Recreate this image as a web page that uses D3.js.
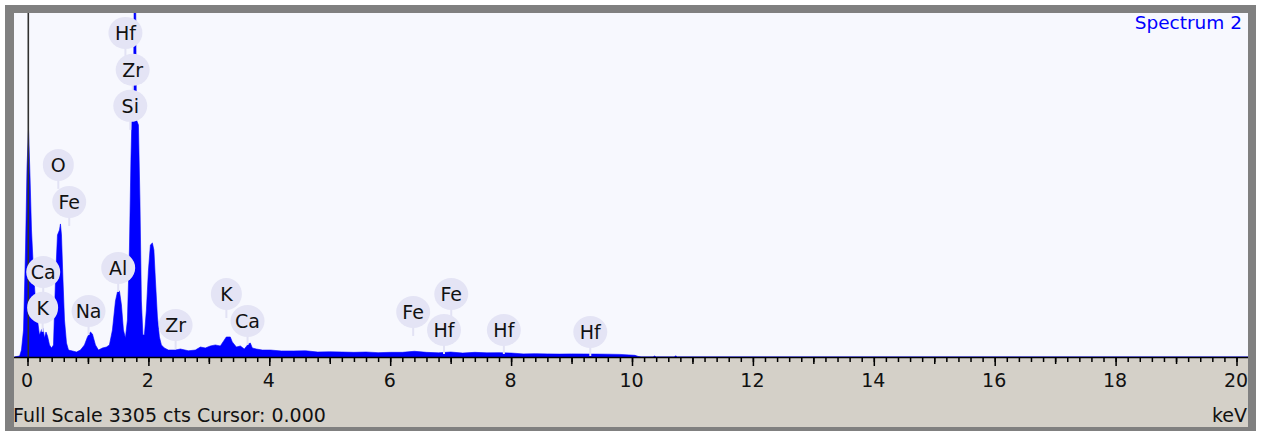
<!DOCTYPE html>
<html>
<head>
<meta charset="utf-8">
<script src="https://cdn.jsdelivr.net/npm/d3@7"></script>
<style>
  body { margin: 0; background: #ffffff; }
  text { font-family: "DejaVu Sans", sans-serif; }
</style>
</head>
<body>
<div id="spectrum"></div>
<script>
// spectrum: energy (keV) and counts
var energyKeV = [
  -0.215, -0.13, -0.10, -0.066, -0.033, -0.008, 0.017, 0.041, 0.066, 0.099,
  0.132, 0.165, 0.198, 0.231, 0.256, 0.281, 0.306, 0.331, 0.364, 0.397,
  0.430, 0.463, 0.496, 0.529, 0.545, 0.562, 0.587, 0.612, 0.645, 0.678,
  0.744, 0.810, 0.876, 0.942, 0.992, 1.041, 1.074, 1.124, 1.174, 1.240,
  1.306, 1.355, 1.405, 1.455, 1.488, 1.521, 1.554, 1.587, 1.620, 1.653,
  1.686, 1.711, 1.727, 1.752, 1.777, 1.802, 1.835, 1.860, 1.884, 1.909,
  1.934, 1.967, 2.000, 2.033, 2.066, 2.091, 2.116, 2.149, 2.182, 2.215,
  2.264, 2.331, 2.446, 2.529, 2.661, 2.777, 2.860, 2.942, 3.025, 3.107,
  3.190, 3.256, 3.289, 3.355, 3.388, 3.455, 3.521, 3.587, 3.653, 3.686,
  3.719, 3.785, 3.884, 4.02, 4.2, 4.4, 4.6, 4.8, 5.0, 5.2,
  5.4, 5.6, 5.8, 6.0, 6.2, 6.4, 6.6, 6.8, 7.0, 7.2,
  7.4, 7.6, 7.8, 8.0, 8.2, 8.4, 8.6, 8.8, 9.0, 9.2,
  9.4, 9.6, 9.8, 9.95, 10.05, 10.1, 10.15, 10.35, 10.37, 10.4,
  10.7, 10.72, 10.75, 20.2
];
var counts = [
  0, 10, 67, 260, 1031, 1832, 2188, 1754, 1224, 829,
  540, 357, 212, 260, 280, 183, 241, 202, 116, 87,
  116, 742, 1176, 1224, 1282, 1176, 742, 357, 135, 67,
  58, 48, 67, 116, 193, 241, 222, 116, 67, 87,
  96, 116, 260, 540, 627, 636, 501, 260, 183, 357,
  1031, 1900, 2285, 2304, 4700, 2285, 2236, 1513, 540, 212,
  212, 453, 829, 1080, 1099, 1031, 742, 385, 193, 116,
  87, 67, 67, 77, 60, 67, 96, 87, 106, 116,
  106, 164, 193, 193, 145, 96, 106, 77, 125, 135,
  87, 77, 67, 67, 58, 58, 60, 48, 50, 48,
  45, 48, 42, 45, 45, 55, 45, 40, 48, 38,
  45, 40, 42, 38, 30, 32, 30, 28, 30, 29,
  28, 27, 25, 20, 16, 6, 0, 0, 10, 0,
  0, 12, 0, 0
];

// element markers: energy (keV), label level (counts), symbol
var markerKeV = [1.62, 1.74, 1.70, 0.51, 0.69, 0.26, 0.25, 1.01, 1.50, 2.45, 3.29, 3.64, 6.38, 7.01, 6.89, 7.88, 9.31];
var markerLevel = [3123, 2767, 2420, 1851, 1494, 819, 474, 443, 858, 308, 607, 347, 434, 607, 260, 260, 241];
var markerName = ["Hf", "Zr", "Si", "O", "Fe", "Ca", "K", "Na", "Al", "Zr", "K", "Ca", "Fe", "Fe", "Hf", "Hf", "Hf"];

var majorTicks = [0, 2, 4, 6, 8, 10, 12, 14, 16, 18, 20];
var oddTicks = [1, 3, 5, 7, 9, 11, 13, 15, 17, 19];
var fullScale = 3305;
var spectrumName = "Spectrum 2";
var statusText = "Full Scale 3305 cts Cursor: 0.000";
var unitText = "keV";

var W = 1261, H = 432;
var plot = { left: 14, top: 13, right: 1248, bottom: 357 };

var svg = d3.select("div#spectrum")
  .append("svg")
  .attr("width", W)
  .attr("height", H);

// frame
svg.append("rect").attr("x", 5).attr("y", 5).attr("width", 1251).attr("height", 426).attr("fill", "#808080");
svg.append("rect").attr("x", plot.left).attr("y", plot.top)
  .attr("width", plot.right - plot.left).attr("height", plot.bottom - plot.top)
  .attr("fill", "#f7f8fe");
svg.append("rect").attr("x", plot.left).attr("y", plot.bottom)
  .attr("width", plot.right - plot.left).attr("height", 70)
  .attr("fill", "#d4d0c8");

var xScale = d3.scaleLinear().domain([0, 20]).range([27.5, 1236.5]);
var yScale = d3.scaleLinear().domain([0, fullScale]).range([plot.bottom, plot.top + 1]);

svg.append("clipPath").attr("id", "plotclip")
  .append("rect").attr("x", plot.left).attr("y", plot.top)
  .attr("width", plot.right - plot.left).attr("height", plot.bottom - plot.top);

var spectrum = energyKeV.map(function (e, i) { return { e: e, c: counts[i] }; });

var area = d3.area()
  .x(function (d) { return xScale(d.e); })
  .y0(yScale(0))
  .y1(function (d) { return yScale(d.c); });

svg.append("path")
  .datum(spectrum)
  .attr("clip-path", "url(#plotclip)")
  .attr("fill", "#0000ff")
  .attr("stroke", "#0000ff")
  .attr("stroke-width", 0.6)
  .attr("d", area);

// cursor line at 0.000 keV
svg.append("line")
  .attr("x1", xScale(0) + 0.8).attr("x2", xScale(0) + 0.8)
  .attr("y1", plot.top).attr("y2", plot.bottom)
  .attr("stroke", "#303030").attr("stroke-width", 1.6);

// element markers
var markers = svg.append("g").attr("clip-path", "url(#plotclip)")
  .selectAll("g.marker")
  .data(markerName.map(function (n, i) { return { name: n, e: markerKeV[i], lvl: markerLevel[i] }; }))
  .enter().append("g")
  .attr("class", "marker")
  .attr("transform", function (d) { return "translate(" + xScale(d.e) + "," + yScale(d.lvl) + ")"; });

markers.append("line")
  .attr("x1", 0).attr("x2", 0).attr("y1", 12).attr("y2", 24)
  .attr("stroke", "#e2e2f4").attr("stroke-width", 2);

markers.append("ellipse")
  .attr("rx", function (d) { return d.name.length > 1 ? 17 : 15.5; })
  .attr("ry", 16)
  .attr("fill", "#e4e4f5");

markers.append("text")
  .attr("text-anchor", "middle")
  .attr("dy", "0.36em")
  .attr("font-size", 19)
  .attr("fill", "#111111")
  .text(function (d) { return d.name; });

// bottom axis
var axisG = svg.append("g").attr("transform", "translate(0," + plot.bottom + ")");

svg.append("line")
  .attr("x1", plot.left).attr("x2", plot.right)
  .attr("y1", plot.bottom + 0.5).attr("y2", plot.bottom + 0.5)
  .attr("stroke", "#000").attr("stroke-width", 1.5);

var minorTicks = d3.range(0, 101).map(function (i) { return i * 0.2; });

axisG.append("g")
  .call(d3.axisBottom(xScale).tickValues(minorTicks).tickSize(5).tickFormat(""))
  .call(function (g) { g.select(".domain").remove(); });

axisG.append("g")
  .call(d3.axisBottom(xScale).tickValues(oddTicks).tickSize(7).tickFormat(""))
  .call(function (g) { g.select(".domain").remove(); });

axisG.append("g")
  .call(d3.axisBottom(xScale).tickValues(majorTicks).tickSize(9).tickFormat(d3.format("d")))
  .call(function (g) { g.select(".domain").remove(); })
  .call(function (g) {
    g.selectAll("text")
      .attr("y", 30).attr("dy", 0)
      .attr("x", -1)
      .attr("font-size", 19)
      .attr("font-family", "DejaVu Sans, sans-serif")
      .attr("fill", "#111");
  });

axisG.selectAll(".tick line").attr("stroke", "#000").attr("stroke-width", 1.5);

// texts
svg.append("text")
  .attr("x", 1242).attr("y", 29)
  .attr("text-anchor", "end")
  .attr("font-size", 18.5)
  .attr("fill", "#0000ff")
  .text(spectrumName);

svg.append("text")
  .attr("x", 13).attr("y", 422)
  .attr("font-size", 19)
  .attr("fill", "#111")
  .text(statusText);

svg.append("text")
  .attr("x", 1247).attr("y", 422)
  .attr("text-anchor", "end")
  .attr("font-size", 19)
  .attr("fill", "#111")
  .text(unitText);
</script>
</body>
</html>
